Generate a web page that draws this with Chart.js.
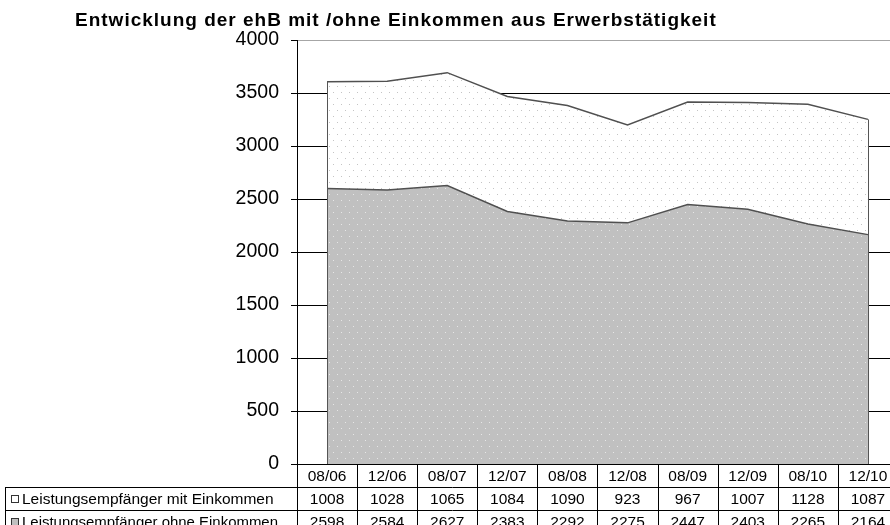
<!DOCTYPE html>
<html>
<head>
<meta charset="utf-8">
<script src="https://cdn.jsdelivr.net/npm/chart.js@4"></script>
<style>
  html, body { margin: 0; padding: 0; background: #fff; overflow: hidden; }
  #wrap { width: 900px; height: 525px; }
</style>
</head>
<body>
<div id="wrap"><canvas id="chart" width="900" height="525"></canvas></div>
<script>
// --- data ---------------------------------------------------------------
const title = "Entwicklung der ehB mit /ohne Einkommen aus Erwerbstätigkeit";
const labels = ["08/06", "12/06", "08/07", "12/07", "08/08", "12/08", "08/09", "12/09", "08/10", "12/10"];
const mitEinkommen = [1008, 1028, 1065, 1084, 1090, 923, 967, 1007, 1128, 1087];
const ohneEinkommen = [2598, 2584, 2627, 2383, 2292, 2275, 2447, 2403, 2265, 2164];
const seriesNames = ["Leistungsempfänger mit Einkommen", "Leistungsempfänger ohne Einkommen"];
const yTicks = [0, 500, 1000, 1500, 2000, 2500, 3000, 3500, 4000];

const FONT = '"Liberation Sans", Arial, sans-serif';

// dotted fill like the old excel pattern
function dotPattern(bg, dot) {
  const c = document.createElement("canvas");
  c.width = 8; c.height = 12;
  const g = c.getContext("2d");
  g.fillStyle = bg;
  g.fillRect(0, 0, 8, 12);
  g.fillStyle = dot;
  g.fillRect(1, 2, 1, 1);
  g.fillRect(5, 8, 1, 1);
  return g.createPattern(c, "repeat");
}
const grayFill = dotPattern("#c0c0c0", "#e6e6e6");
const whiteFill = dotPattern("#ffffff", "#c4c4c4");

// title, area edges and the data table underneath
const tablePlugin = {
  id: "dataTable",
  afterDatasetsDraw(chart) {
    const { ctx, scales: { x, y } } = chart;
    const last = labels.length - 1;
    ctx.save();
    ctx.strokeStyle = "#555";
    ctx.lineWidth = 1;
    [0, last].forEach((i) => {
      const px = Math.round(x.getPixelForValue(i)) + 0.5;
      ctx.beginPath();
      ctx.moveTo(px, y.getPixelForValue(mitEinkommen[i] + ohneEinkommen[i]));
      ctx.lineTo(px, y.getPixelForValue(0));
      ctx.stroke();
    });
    ctx.restore();
  },
  afterDraw(chart) {
    const { ctx, chartArea, scales: { x } } = chart;
    const colW = x.getPixelForValue(1) - x.getPixelForValue(0);
    const top = chartArea.bottom;
    const rowH = 23;
    const right = chart.width;
    const tableLeft = 5;

    ctx.save();
    // title
    ctx.fillStyle = "#000";
    ctx.font = "bold 19px " + FONT;
    ctx.letterSpacing = "1px";
    ctx.textBaseline = "middle";
    ctx.textAlign = "left";
    ctx.fillText(title, 75, 21);
    ctx.letterSpacing = "0px";

    // grid of the table
    ctx.strokeStyle = "#000";
    ctx.lineWidth = 1;
    const hline = (yy, x0) => {
      ctx.beginPath();
      ctx.moveTo(x0, Math.round(yy) + 0.5);
      ctx.lineTo(right, Math.round(yy) + 0.5);
      ctx.stroke();
    };
    const vline = (xx, y0, y1) => {
      ctx.beginPath();
      ctx.moveTo(Math.round(xx) + 0.5, y0);
      ctx.lineTo(Math.round(xx) + 0.5, y1);
      ctx.stroke();
    };
    hline(top, chartArea.left - 6);
    hline(top + rowH, tableLeft);
    hline(top + 2 * rowH, tableLeft);
    vline(tableLeft, top + rowH, chart.height);
    for (let i = 0; i <= labels.length; i++) {
      vline(x.getPixelForValue(0) - colW / 2 + i * colW, top, chart.height);
    }

    // cells
    ctx.font = "15.5px " + FONT;
    ctx.textAlign = "center";
    labels.forEach((lab, i) => {
      const cx = x.getPixelForValue(i);
      ctx.fillText(lab, cx, top + rowH / 2 + 1);
      ctx.fillText(String(mitEinkommen[i]), cx, top + rowH * 1.5 + 1);
      ctx.fillText(String(ohneEinkommen[i]), cx, top + rowH * 2.5 + 1);
    });

    // legend keys + row names
    const keys = ["#ffffff", "#c0c0c0"];
    seriesNames.forEach((name, r) => {
      const cy = top + rowH * (1.5 + r);
      ctx.fillStyle = keys[r];
      ctx.fillRect(12, Math.round(cy) - 3, 6, 6);
      ctx.strokeStyle = "#333";
      ctx.strokeRect(11.5, Math.round(cy) - 3.5, 7, 7);
      ctx.fillStyle = "#000";
      ctx.textAlign = "left";
      ctx.fillText(name, 22, cy + 1, 256);
    });
    ctx.restore();
  },
};

new Chart(document.getElementById("chart"), {
  type: "line",
  data: {
    labels,
    datasets: [
      {
        label: seriesNames[1],
        data: ohneEinkommen,
        backgroundColor: grayFill,
        borderColor: "#505050",
        borderWidth: 1.5,
        fill: "origin",
        pointRadius: 0,
        tension: 0,
      },
      {
        label: seriesNames[0],
        data: mitEinkommen,
        backgroundColor: whiteFill,
        borderColor: "#505050",
        borderWidth: 1.5,
        fill: "-1",
        pointRadius: 0,
        tension: 0,
      },
    ],
  },
  options: {
    responsive: false,
    animation: false,
    layout: { padding: { left: 0, top: 40, right: 2, bottom: 61 } },
    plugins: { legend: { display: false }, tooltip: { enabled: false }, title: { display: false } },
    scales: {
      x: { type: "category", offset: true, display: false },
      y: {
        stacked: true,
        min: 0,
        max: 4000,
        afterBuildTicks: (scale) => { scale.ticks = yTicks.map((v) => ({ value: v })); },
        afterFit: (scale) => { scale.width = 297; },
        ticks: {
          color: "#000",
          font: { family: FONT, size: 19.5 },
          padding: 12,
          callback: (v) => String(v),
        },
        grid: {
          color: (c) => (c.tick && c.tick.value === 4000 ? "#a6a6a6" : "#000"),
          tickColor: "#000",
          tickLength: 6,
          lineWidth: 1,
        },
        border: { color: "#000", width: 1 },
      },
    },
  },
  plugins: [tablePlugin],
});
</script>
</body>
</html>
